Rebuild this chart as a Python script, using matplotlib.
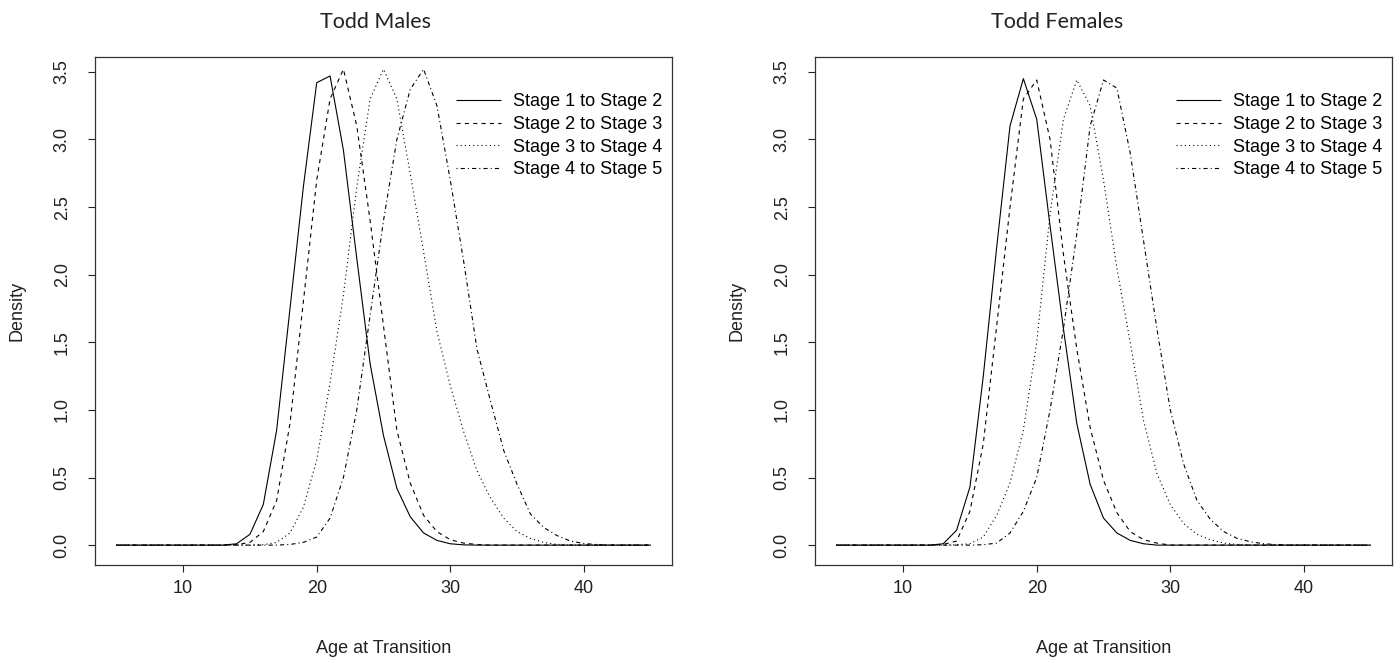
import numpy as np
import matplotlib
matplotlib.use("Agg")
import matplotlib.pyplot as plt

plt.rcParams['font.family'] = ['Liberation Sans', 'DejaVu Sans']
plt.rcParams['lines.scale_dashes'] = False

# ages at which the densities were evaluated
ages = np.arange(5, 46)

# Todd males: (first age with a non-zero value, values)
m_12_start, m_12 = 14, [0.01, 0.08, 0.30, 0.85, 1.75, 2.65, 3.42, 3.47, 2.92, 2.12, 1.34, 0.81,
                        0.42, 0.21, 0.09, 0.035, 0.01, 0.002]
m_23_start, m_23 = 14, [0.003, 0.02, 0.10, 0.33, 0.90, 1.80, 2.70, 3.30, 3.52, 3.10, 2.40, 1.62,
                        0.85, 0.46, 0.22, 0.10, 0.04, 0.015, 0.005]
m_34_start, m_34 = 16, [0.003, 0.02, 0.09, 0.28, 0.63, 1.20, 1.85, 2.65, 3.30, 3.52, 3.30, 2.75,
                        2.17, 1.58, 1.18, 0.84, 0.55, 0.35, 0.20, 0.10, 0.05, 0.02, 0.005]
m_45_start, m_45 = 18, [0.005, 0.02, 0.06, 0.20, 0.50, 1.00, 1.70, 2.40, 3.00, 3.37, 3.52, 3.25,
                        2.70, 2.10, 1.45, 1.07, 0.70, 0.45, 0.23, 0.13, 0.07, 0.03, 0.012, 0.004]

# Todd females
f_12_start, f_12 = 13, [0.01, 0.11, 0.43, 1.25, 2.20, 3.10, 3.45, 3.15, 2.36, 1.60, 0.90, 0.45,
                        0.20, 0.09, 0.035, 0.01]
f_23_start, f_23 = 13, [0.005, 0.03, 0.25, 0.75, 1.62, 2.50, 3.30, 3.44, 3.00, 2.15, 1.45, 0.87,
                        0.48, 0.24, 0.10, 0.04, 0.015]
f_34_start, f_34 = 14, [0.003, 0.01, 0.06, 0.22, 0.46, 0.85, 1.50, 2.45, 3.15, 3.44, 3.25, 2.70,
                        2.05, 1.50, 0.92, 0.53, 0.30, 0.16, 0.08, 0.04, 0.015, 0.005]
f_45_start, f_45 = 16, [0.003, 0.015, 0.09, 0.25, 0.50, 1.00, 1.60, 2.30, 3.10, 3.44, 3.38, 2.90,
                        2.25, 1.60, 1.00, 0.60, 0.33, 0.19, 0.10, 0.05, 0.025, 0.01, 0.004]

labels = ["Stage 1 to Stage 2", "Stage 2 to Stage 3", "Stage 3 to Stage 4", "Stage 4 to Stage 5"]
styles = [(0, ()), (0, (3, 3)), (0, (0.8, 2.2)), (0, (0.8, 2.2, 3, 2.2))]


def full(start, vals):
    # zero density outside the listed ages
    y = np.zeros(len(ages))
    y[start - ages[0]:start - ages[0] + len(vals)] = vals
    return y


W, H = 1400, 663
fig = plt.figure(figsize=(W / 100, H / 100), dpi=100)

panels = [
    (95, "Todd Males", 375, [(m_12_start, m_12), (m_23_start, m_23), (m_34_start, m_34), (m_45_start, m_45)]),
    (815, "Todd Females", 1057, [(f_12_start, f_12), (f_23_start, f_23), (f_34_start, f_34), (f_45_start, f_45)]),
]

for left, title, title_x, curves in panels:
    ax = fig.add_axes([left / W, 1 - 565 / H, 577 / W, 508 / H])
    for (start, vals), lab, ls in zip(curves, labels, styles):
        ax.plot(ages, full(start, vals), color='black', lw=0.8, linestyle=ls, label=lab)
    ax.set_xlim(3.4, 46.6)
    ax.set_ylim(-0.147, 3.61)
    ax.set_xticks([10, 20, 30, 40])
    ax.set_yticks(np.arange(0, 3.51, 0.5))
    ax.set_yticklabels([f"{v:.1f}" for v in np.arange(0, 3.51, 0.5)], rotation=90, va='center')
    ax.tick_params(direction='out', length=5, width=0.8, labelsize=13, colors='#222222')
    ax.tick_params(axis='y', pad=12.5)
    ax.tick_params(axis='x', pad=5.5)
    for sp in ax.spines.values():
        sp.set_linewidth(0.9)
        sp.set_color('#333333')
    ax.set_xlabel("Age at Transition", fontsize=13, color='#222222', labelpad=31)
    ax.set_ylabel("Density", fontsize=13, color='#222222', labelpad=20)
    ax.legend(loc='upper left', bbox_to_anchor=(0.625, 0.929), frameon=False, fontsize=13,
              handlelength=2.5, handletextpad=0.7, labelspacing=0.32, borderpad=0, borderaxespad=0)
    fig.text(title_x / W, 1 - 22 / H, title, ha='center', va='center', fontsize=15.5,
             family=['Lato', 'DejaVu Sans'], color='#222222')

fig.savefig("out.png", dpi=100)
